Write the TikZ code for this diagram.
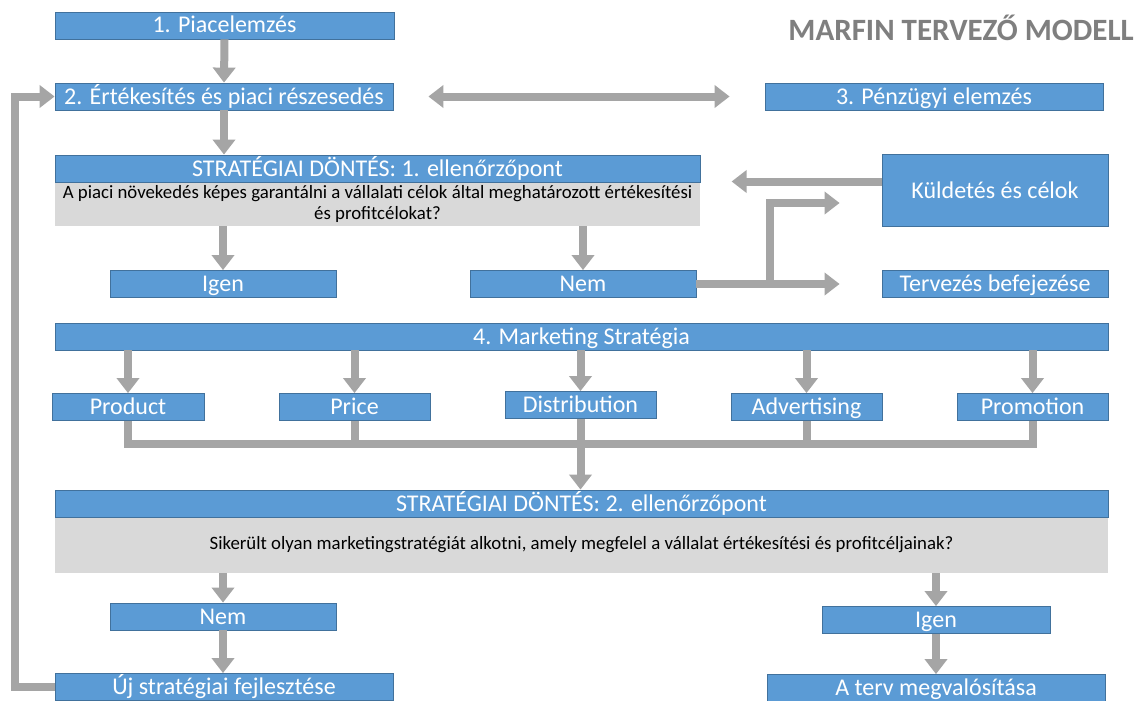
\documentclass[tikz,border=0pt]{standalone}
\usepackage{fontspec}
\setmainfont{Carlito}
\usetikzlibrary{arrows.meta,calc}
\definecolor{boxblue}{HTML}{5B9BD5}
\definecolor{boxborder}{HTML}{41719C}
\definecolor{boxgray}{HTML}{D9D9D9}
\definecolor{arrgray}{HTML}{A5A5A5}
\definecolor{titlegray}{HTML}{7F7F7F}
\newcommand{\fsz}[2]{\fontsize{#1pt}{#2pt}\selectfont}
\tikzset{
  bluebox/.style={draw=boxborder, line width=0.8pt, fill=boxblue, text=white, inner sep=0pt, font=\fsz{24}{24}, text height=18pt, text depth=3pt},
  graybox/.style={fill=boxgray, draw=none, inner sep=0pt, font=\fsz{18.8}{21}, align=center},
  arr/.style={draw=arrgray, line width=8pt, -{Triangle[length=15pt,width=22pt]}},
  darr/.style={draw=arrgray, line width=8pt, {Triangle[length=15pt,width=22pt]}-{Triangle[length=15pt,width=22pt]}},
  ln/.style={draw=arrgray, line width=8pt},
}
\begin{document}
\begin{tikzpicture}[x=1pt,y=-1pt]
\useasboundingbox[fill=white] (0,0) rectangle (1138,701);
% title
\node[anchor=east, inner sep=0pt, font=\bfseries\fsz{31}{31}, text=titlegray] (title) at (1134,28) {MARFIN TERVEZŐ MODELL};
% top boxes
\node[bluebox, minimum width=339pt, minimum height=27pt] (p1) at (224.5,25.5) {1. Piacelemzés};
\node[bluebox, minimum width=338pt, minimum height=27pt] (p2) at (224,96.5) {2. Értékesítés és piaci részesedés};
\node[bluebox, minimum width=338pt, minimum height=27pt] (p3) at (934,96.5) {3. Pénzügyi elemzés};
% decision 1
\node[graybox, minimum width=645pt, minimum height=44pt] (sd1g) at (377.5,204) {A piaci növekedés képes garantálni a vállalati célok által meghatározott értékesítési\\és profitcélokat?};
\node[bluebox, minimum width=645pt, minimum height=27pt] (sd1h) at (377.5,168.5) {STRATÉGIAI DÖNTÉS: 1. ellenőrzőpont};
\node[bluebox, minimum width=226pt, minimum height=72pt] (kc) at (995,190.5) {Küldetés és célok};
\node[bluebox, minimum width=226pt, minimum height=27pt] (ig1) at (223,284) {Igen};
\node[bluebox, minimum width=226pt, minimum height=27pt] (nem1) at (583,284) {Nem};
\node[bluebox, minimum width=226pt, minimum height=27pt] (tb) at (995,284) {Tervezés befejezése};
% marketing
\node[bluebox, minimum width=1053pt, minimum height=27pt] (ms) at (581.5,336.5) {4. Marketing Stratégia};
\node[bluebox, minimum width=152pt, minimum height=27pt] (prod) at (128,407) {Product};
\node[bluebox, minimum width=151pt, minimum height=27pt] (price) at (354.5,407) {Price};
\node[bluebox, minimum width=151pt, minimum height=27pt] (dist) at (580.5,405) {Distribution};
\node[bluebox, minimum width=151pt, minimum height=27pt] (adv) at (806.5,407) {Advertising};
\node[bluebox, minimum width=151pt, minimum height=27pt] (promo) at (1032.5,407) {Promotion};
\coordinate (jn) at (580.5,444);
% decision 2
\node[graybox, minimum width=1053pt, minimum height=56pt] (sd2g) at (581.5,545) {Sikerült olyan marketingstratégiát alkotni, amely megfelel a vállalat értékesítési és profitcéljainak?};
\node[bluebox, minimum width=1053pt, minimum height=27pt] (sd2h) at (581.5,503.5) {STRATÉGIAI DÖNTÉS: 2. ellenőrzőpont};
\node[bluebox, minimum width=226pt, minimum height=27pt] (nem2) at (223,616.5) {Nem};
\node[bluebox, minimum width=338pt, minimum height=27pt] (uj) at (224,687) {Új stratégiai fejlesztése};
\node[bluebox, minimum width=228pt, minimum height=27pt] (ig2) at (936,620) {Igen};
\node[bluebox, minimum width=338pt, minimum height=27pt] (terv) at (936,688) {A terv megvalósítása};
% connectors
\draw[arr] (p1.south) -- (p2.north);
\draw[arr] (p2.south) -- (p2.south |- sd1h.north);
\draw[darr] ([xshift=35pt]p2.east) -- ([xshift=-35pt]p3.west);
\draw[arr] ([yshift=9pt]kc.west) -- ++(-150,0);
\draw[arr] (sd1g.south -| ig1.north) -- (ig1.north);
\draw[arr] (sd1g.south -| nem1.north) -- (nem1.north);
\draw[arr] (nem1.east) -- ([xshift=-42pt]tb.west);
\draw[arr] ([xshift=74pt]nem1.east) |- ([xshift=-42pt,yshift=-12.5pt]kc.west);
\foreach \n in {prod,price,dist,adv,promo}{
  \draw[arr] (ms.south -| \n.north) -- (\n.north);
}
\draw[ln] (prod.south) -- (prod.south |- jn) -- (promo.south |- jn) -- (promo.south);
\draw[ln] (price.south) -- (price.south |- jn);
\draw[ln] (adv.south) -- (adv.south |- jn);
\draw[arr] (dist.south) -- (dist.south |- sd2h.north);
\draw[arr] (sd2g.south -| nem2.north) -- (nem2.north);
\draw[arr] (nem2.south) -- (nem2.south |- uj.north);
\draw[arr] (uj.west) -- ++(-40,0) |- (p2.west);
\draw[arr] (sd2g.south -| ig2.north) -- (ig2.north);
\draw[arr] (ig2.south) -- (ig2.south |- terv.north);
\end{tikzpicture}
\end{document}
